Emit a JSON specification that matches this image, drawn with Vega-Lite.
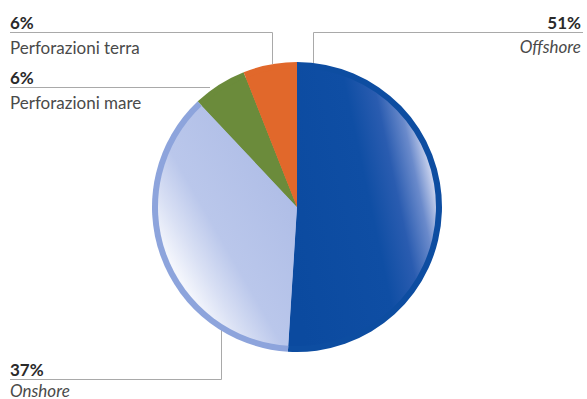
{
  "$schema": "https://vega.github.io/schema/vega-lite/v6.json",
  "width": 580,
  "height": 384,
  "autosize": {"type": "none"},
  "padding": {"left": 7, "top": 15, "right": 0, "bottom": 0},
  "background": "#ffffff",
  "config": {"view": {"stroke": null}},
  "datasets": {
    "shares": [
      {"name": "Offshore", "value": 51, "idx": 1},
      {"name": "Onshore", "value": 37, "idx": 2},
      {"name": "Perforazioni mare", "value": 6, "idx": 3},
      {"name": "Perforazioni terra", "value": 6, "idx": 4}
    ],
    "labels": [
      {"name": "Perforazioni terra", "pct": "6%", "x": 10, "y": 32.5, "side": "left"},
      {"name": "Perforazioni mare", "pct": "6%", "x": 10, "y": 87.5, "side": "left"},
      {"name": "Offshore", "pct": "51%", "x": 581, "y": 32.5, "side": "right"},
      {"name": "Onshore", "pct": "37%", "x": 10, "y": 379.5, "side": "left"}
    ],
    "leaders": [
      {"x": 10, "y": 32.5, "x2": 272.5, "y2": 32.5},
      {"x": 272.5, "y": 32.5, "x2": 272.5, "y2": 64},
      {"x": 10, "y": 87.5, "x2": 210, "y2": 87.5},
      {"x": 313.5, "y": 32.5, "x2": 583, "y2": 32.5},
      {"x": 313.5, "y": 32.5, "x2": 313.5, "y2": 63},
      {"x": 10, "y": 379.5, "x2": 221.5, "y2": 379.5},
      {"x": 221.5, "y": 379.5, "x2": 221.5, "y2": 325}
    ]
  },
  "layer": [
    {
      "data": {"name": "leaders"},
      "mark": {"type": "rule", "stroke": "#a9a9a9", "strokeWidth": 1},
      "encoding": {
        "x": {"field": "x", "type": "quantitative", "scale": {"domain": [7, 587], "nice": false, "zero": false}, "axis": null},
        "y": {"field": "y", "type": "quantitative", "scale": {"domain": [15, 399], "nice": false, "zero": false, "reverse": true}, "axis": null},
        "x2": {"field": "x2"},
        "y2": {"field": "y2"}
      }
    },
    {
      "data": {"name": "shares"},
      "mark": {"type": "arc", "radius": 145},
      "encoding": {
        "theta": {"field": "value", "type": "quantitative", "stack": true},
        "order": {"field": "idx", "type": "quantitative"},
        "fill": {
          "condition": [
            {"test": "datum.name === 'Offshore'", "value": "#0d4da1"},
            {"test": "datum.name === 'Onshore'", "value": "#8da4dc"},
            {"test": "datum.name === 'Perforazioni mare'", "value": "#6b8b3b"}
          ],
          "value": "#e1682b"
        }
      }
    },
    {
      "data": {"name": "shares"},
      "mark": {"type": "arc", "radius": 139},
      "encoding": {
        "theta": {"field": "value", "type": "quantitative", "stack": true},
        "order": {"field": "idx", "type": "quantitative"},
        "fill": {
          "condition": [
            {
              "test": "datum.name === 'Offshore'",
              "value": {
                "gradient": "linear",
                "x1": 0, "y1": 0.7, "x2": 1, "y2": 0.3,
                "stops": [
                  {"offset": 0, "color": "#0b4a9f"},
                  {"offset": 0.55, "color": "#0f4ea4"},
                  {"offset": 0.72, "color": "#2a5cb0"},
                  {"offset": 0.85, "color": "#6a8acb"},
                  {"offset": 0.94, "color": "#c2cdeb"},
                  {"offset": 1, "color": "#e2e7f4"}
                ]
              }
            },
            {
              "test": "datum.name === 'Onshore'",
              "value": {
                "gradient": "linear",
                "x1": 0, "y1": 1, "x2": 1, "y2": 0,
                "stops": [
                  {"offset": 0, "color": "#ffffff"},
                  {"offset": 0.22, "color": "#f4f6fc"},
                  {"offset": 0.32, "color": "#d9e0f4"},
                  {"offset": 0.45, "color": "#bac7eb"},
                  {"offset": 1, "color": "#a9b8e4"}
                ]
              }
            },
            {"test": "datum.name === 'Perforazioni mare'", "value": "#6b8b3b"}
          ],
          "value": "#e1682b"
        }
      }
    },
    {
      "data": {"name": "labels"},
      "transform": [{"filter": "datum.side === 'left'"}],
      "mark": {"type": "text", "align": "left", "baseline": "alphabetic", "dy": -3.5, "font": "Lato", "fontSize": 17, "fontWeight": "bold", "fill": "#2a2a2a"},
      "encoding": {
        "x": {"field": "x", "type": "quantitative", "scale": {"domain": [7, 587], "nice": false, "zero": false}, "axis": null},
        "y": {"field": "y", "type": "quantitative", "scale": {"domain": [15, 399], "nice": false, "zero": false, "reverse": true}, "axis": null},
        "text": {"field": "pct"}
      }
    },
    {
      "data": {"name": "labels"},
      "transform": [{"filter": "datum.side === 'right'"}],
      "mark": {"type": "text", "align": "right", "baseline": "alphabetic", "dy": -3.5, "font": "Lato", "fontSize": 17, "fontWeight": "bold", "fill": "#2a2a2a"},
      "encoding": {
        "x": {"field": "x", "type": "quantitative", "scale": {"domain": [7, 587], "nice": false, "zero": false}, "axis": null},
        "y": {"field": "y", "type": "quantitative", "scale": {"domain": [15, 399], "nice": false, "zero": false, "reverse": true}, "axis": null},
        "text": {"field": "pct"}
      }
    },
    {
      "data": {"name": "labels"},
      "transform": [{"filter": "datum.name === 'Perforazioni terra' || datum.name === 'Perforazioni mare'"}],
      "mark": {"type": "text", "align": "left", "baseline": "alphabetic", "dy": 21, "font": "Lato", "fontSize": 17, "fill": "#4a4a4a"},
      "encoding": {
        "x": {"field": "x", "type": "quantitative", "scale": {"domain": [7, 587], "nice": false, "zero": false}, "axis": null},
        "y": {"field": "y", "type": "quantitative", "scale": {"domain": [15, 399], "nice": false, "zero": false, "reverse": true}, "axis": null},
        "text": {"field": "name"}
      }
    },
    {
      "data": {"name": "labels"},
      "transform": [{"filter": "datum.name === 'Onshore'"}],
      "mark": {"type": "text", "align": "left", "baseline": "alphabetic", "dy": 17, "font": "Lato", "fontSize": 17, "fontStyle": "italic", "fill": "#4a4a4a"},
      "encoding": {
        "x": {"field": "x", "type": "quantitative", "scale": {"domain": [7, 587], "nice": false, "zero": false}, "axis": null},
        "y": {"field": "y", "type": "quantitative", "scale": {"domain": [15, 399], "nice": false, "zero": false, "reverse": true}, "axis": null},
        "text": {"field": "name"}
      }
    },
    {
      "data": {"name": "labels"},
      "transform": [{"filter": "datum.name === 'Offshore'"}],
      "mark": {"type": "text", "align": "right", "baseline": "alphabetic", "dy": 20, "font": "Lato", "fontSize": 17, "fontStyle": "italic", "fill": "#4a4a4a"},
      "encoding": {
        "x": {"field": "x", "type": "quantitative", "scale": {"domain": [7, 587], "nice": false, "zero": false}, "axis": null},
        "y": {"field": "y", "type": "quantitative", "scale": {"domain": [15, 399], "nice": false, "zero": false, "reverse": true}, "axis": null},
        "text": {"field": "name"}
      }
    }
  ]
}
